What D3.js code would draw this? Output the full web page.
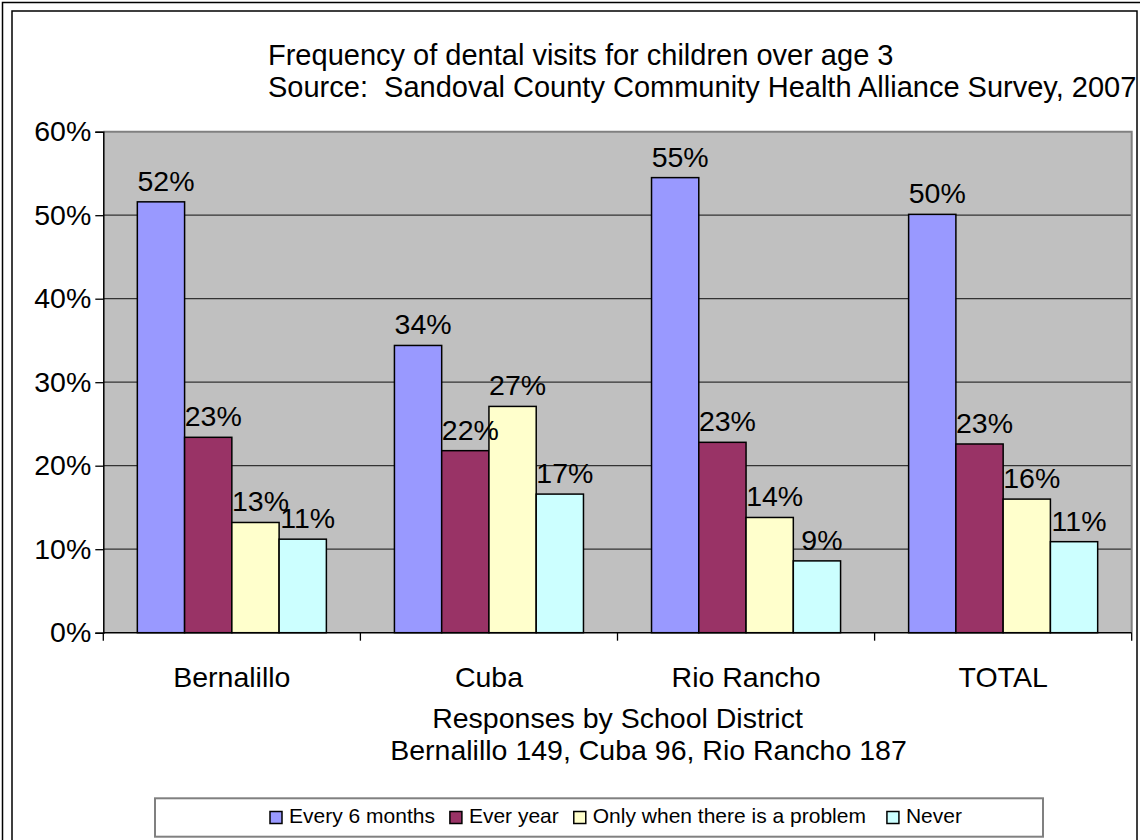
<!DOCTYPE html>
<html>
<head>
<meta charset="utf-8">
<script src="https://cdn.jsdelivr.net/npm/d3@7"></script>
<style>
  html, body { margin: 0; padding: 0; background: #fff; }
  svg { display: block; font-family: "Liberation Sans", Arial, sans-serif; }
  svg text { white-space: pre; }
</style>
</head>
<body>
<svg id="chart" width="1140" height="840"></svg>
<script>
// Survey results: share of children over age 3 by dental visit frequency
const categories = ["Bernalillo", "Cuba", "Rio Rancho", "TOTAL"];
const seriesNames = ["Every 6 months", "Ever year", "Only when there is a problem", "Never"];
const every6Months = [0.516, 0.344, 0.545, 0.501];
const everyYear    = [0.234, 0.218, 0.228, 0.226];
const whenProblem  = [0.132, 0.271, 0.138, 0.160];
const never        = [0.112, 0.166, 0.086, 0.109];
const yTicks = [0, 0.1, 0.2, 0.3, 0.4, 0.5, 0.6];
const titleLines = [
  "Frequency of dental visits for children over age 3",
  "Source:  Sandoval County Community Health Alliance Survey, 2007"
];
const xTitleLines = [
  "Responses by School District",
  "Bernalillo 149, Cuba 96, Rio Rancho 187"
];

const seriesValues = [every6Months, everyYear, whenProblem, never];
const colors = ["#9999FF", "#993366", "#FFFFCC", "#CCFFFF"];

const svg = d3.select("#chart");
const W = 1140, H = 840;

svg.append("rect").attr("width", W).attr("height", H).attr("fill", "#fff");

// chart area frame (double border), clipped on the right
svg.append("defs").append("clipPath").attr("id", "chartClip")
  .append("rect").attr("x", 12).attr("y", 11).attr("width", 1125).attr("height", H);

svg.append("rect").attr("x", 2.5).attr("y", 2.5).attr("width", W + 10).attr("height", H + 10)
  .attr("fill", "none").attr("stroke", "#000").attr("stroke-width", 1.5);
svg.append("rect").attr("x", 12).attr("y", 11).attr("width", 1125).attr("height", H + 10)
  .attr("fill", "none").attr("stroke", "#000").attr("stroke-width", 1.5);

const g = svg.append("g").attr("clip-path", "url(#chartClip)");

const plot = { left: 103.3, right: 1131.7, top: 131.7, bottom: 632.7 };

const x0 = d3.scaleBand().domain(categories).range([plot.left, plot.right]).paddingInner(0).paddingOuter(0);
const x1 = d3.scaleBand().domain(seriesNames).range([0, x0.bandwidth()]).paddingInner(0).paddingOuter(0.72);
const y = d3.scaleLinear().domain([0, 0.6]).range([plot.bottom, plot.top]);

// plot background
g.append("rect")
  .attr("x", plot.left).attr("y", plot.top)
  .attr("width", plot.right - plot.left).attr("height", plot.bottom - plot.top)
  .attr("fill", "#C0C0C0");

// horizontal gridlines
g.append("g").selectAll("line").data(yTicks.filter(t => t > 0 && t < 0.6)).join("line")
  .attr("x1", plot.left).attr("x2", plot.right)
  .attr("y1", d => y(d)).attr("y2", d => y(d))
  .attr("stroke", "#333").attr("stroke-width", 1.3);

// plot border top/right
g.append("path")
  .attr("d", `M${plot.left},${plot.top}H${plot.right}V${plot.bottom}`)
  .attr("fill", "none").attr("stroke", "#808080").attr("stroke-width", 2);

// bars
const groups = g.append("g").selectAll("g").data(categories).join("g")
  .attr("transform", d => `translate(${x0(d)},0)`);

groups.selectAll("rect")
  .data((c, ci) => seriesNames.map((s, si) => ({ s, si, v: seriesValues[si][ci] })))
  .join("rect")
  .attr("x", d => x1(d.s))
  .attr("y", d => y(d.v))
  .attr("width", x1.bandwidth())
  .attr("height", d => y(0) - y(d.v))
  .attr("fill", d => colors[d.si])
  .attr("stroke", "#000").attr("stroke-width", 1.5);

const fmt = d3.format(".0%");

groups.selectAll("text")
  .data((c, ci) => seriesNames.map((s, si) => ({ s, si, v: seriesValues[si][ci] })))
  .join("text")
  .attr("x", d => x1(d.s) + x1.bandwidth() / 2 + 5)
  .attr("y", d => y(d.v) - 11)
  .attr("text-anchor", "middle")
  .attr("font-size", 28.5)
  .attr("fill", "#000")
  .text(d => fmt(d.v));

// y axis
const yAxis = d3.axisLeft(y).tickValues(yTicks).tickFormat(fmt).tickSize(8).tickPadding(4);
const yAxisG = g.append("g").attr("transform", `translate(${plot.left},0)`).call(yAxis);
yAxisG.select(".domain").attr("stroke", "#000").attr("stroke-width", 1.5);
yAxisG.selectAll(".tick line").attr("stroke", "#000").attr("stroke-width", 1.3);
yAxisG.selectAll(".tick text")
  .attr("font-size", 28.5).attr("fill", "#000")
  .attr("font-family", "\"Liberation Sans\", Arial, sans-serif");

// x axis: baseline with ticks at category boundaries
const boundaries = categories.map(c => x0(c)).concat([plot.right]);
g.append("line")
  .attr("x1", plot.left).attr("x2", plot.right)
  .attr("y1", plot.bottom).attr("y2", plot.bottom)
  .attr("stroke", "#000").attr("stroke-width", 1.5);
g.append("g").selectAll("line").data(boundaries).join("line")
  .attr("x1", d => d).attr("x2", d => d)
  .attr("y1", plot.bottom).attr("y2", plot.bottom + 8)
  .attr("stroke", "#000").attr("stroke-width", 1.3);

g.append("g").selectAll("text").data(categories).join("text")
  .attr("x", d => x0(d) + x0.bandwidth() / 2)
  .attr("y", 686.5)
  .attr("text-anchor", "middle")
  .attr("font-size", 28.5)
  .text(d => d);

// axis title
g.append("text").attr("x", (plot.left + plot.right) / 2).attr("y", 727.5)
  .attr("text-anchor", "middle").attr("font-size", 28.5).text(xTitleLines[0]);
g.append("text").attr("x", (plot.left + plot.right) / 2 + 31).attr("y", 760)
  .attr("text-anchor", "middle").attr("font-size", 28.5).text(xTitleLines[1]);

// chart title
g.append("text").attr("x", 268).attr("y", 65)
  .attr("font-size", 29).text(titleLines[0]);
g.append("text").attr("x", 268).attr("y", 97)
  .attr("font-size", 29).text(titleLines[1]);

// legend
const legend = g.append("g");
legend.append("rect")
  .attr("x", 155).attr("y", 798.3).attr("width", 888).attr("height", 38.4)
  .attr("fill", "#fff").attr("stroke", "#808080").attr("stroke-width", 2);

let lx = 270;
seriesNames.forEach((name, i) => {
  legend.append("rect")
    .attr("x", lx).attr("y", 811.5).attr("width", 12).attr("height", 12)
    .attr("fill", colors[i]).attr("stroke", "#000").attr("stroke-width", 1.5);
  const t = legend.append("text")
    .attr("x", lx + 19).attr("y", 823)
    .attr("font-size", 21).text(name);
  lx += 19 + t.node().getComputedTextLength() + (i === 2 ? 21 : 15);
});
</script>
</body>
</html>
